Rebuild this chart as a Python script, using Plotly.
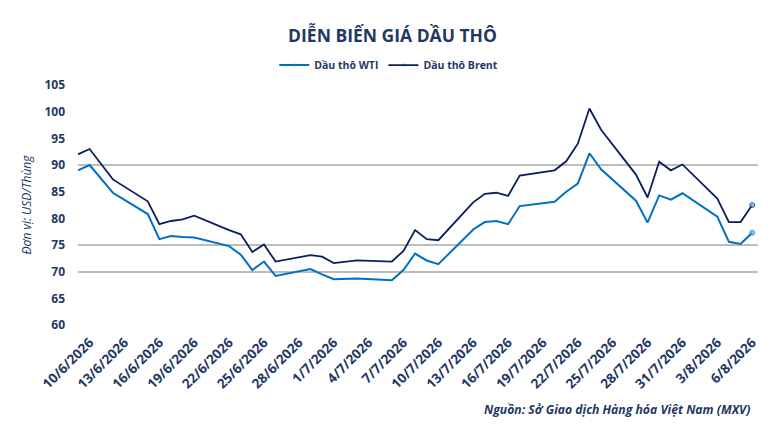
import plotly.graph_objects as go

# ---- data ----
dates = ["2026-06-09", "2026-06-10", "2026-06-12", "2026-06-15", "2026-06-16", "2026-06-17",
         "2026-06-18", "2026-06-19", "2026-06-22", "2026-06-23", "2026-06-24", "2026-06-25",
         "2026-06-26", "2026-06-29", "2026-06-30", "2026-07-01", "2026-07-03", "2026-07-06",
         "2026-07-07", "2026-07-08", "2026-07-09", "2026-07-10", "2026-07-13", "2026-07-14",
         "2026-07-15", "2026-07-16", "2026-07-17", "2026-07-20", "2026-07-21", "2026-07-22",
         "2026-07-23", "2026-07-24", "2026-07-27", "2026-07-28", "2026-07-29", "2026-07-30",
         "2026-07-31", "2026-08-03", "2026-08-04", "2026-08-05", "2026-08-06"]

wti = [89.0, 90.0, 84.8, 80.8, 76.1, 76.7, 76.5, 76.4, 74.8, 73.2, 70.3, 71.9,
       69.2, 70.5, 69.5, 68.6, 68.7, 68.4, 70.3, 73.4, 72.1, 71.4, 77.9, 79.3,
       79.5, 78.9, 82.3, 83.1, 85.0, 86.5, 92.2, 89.2, 83.3, 79.2, 84.3, 83.5,
       84.7, 80.3, 75.6, 75.2, 77.3]

brent = [92.0, 93.0, 87.3, 83.2, 78.9, 79.5, 79.8, 80.5, 77.8, 77.0, 73.7, 75.1,
         71.9, 73.1, 72.8, 71.6, 72.1, 71.9, 73.9, 77.8, 76.1, 75.9, 83.0, 84.6,
         84.8, 84.2, 88.0, 89.0, 90.7, 94.0, 100.6, 96.6, 88.2, 83.9, 90.6, 89.0,
         90.1, 83.7, 79.3, 79.3, 82.5]

series_names = ["Dầu thô WTI", "Dầu thô Brent"]
grid_levels = [70, 75, 90]

TEXT = "#1F3864"
FONT = "Open Sans"
Y_RANGE = [60, 105]

end_marker_sizes = [0] * (len(dates) - 1) + [5]

fig = go.Figure()
fig.add_trace(go.Scatter(
    x=dates, y=wti, name=series_names[0], mode="lines+markers", yaxis="y",
    line=dict(color="#0070C0", width=2),
    marker=dict(size=end_marker_sizes, color="#5BB8E6", symbol="circle"),
))
fig.add_trace(go.Scatter(
    x=dates, y=brent, name=series_names[1], mode="lines+markers", yaxis="y2",
    line=dict(color="#0A1F5C", width=1.8),
    marker=dict(size=end_marker_sizes, color="#5BB8E6", symbol="circle"),
))

fig.update_layout(
    width=769, height=429,
    paper_bgcolor="white", plot_bgcolor="white",
    margin=dict(l=70, r=19, t=77, b=112),
    font=dict(family=FONT, color=TEXT),
    title=dict(text="<b>DIỄN BIẾN GIÁ DẦU THÔ</b>", x=0.5, xanchor="center",
               y=0.935, yanchor="middle", font=dict(size=17.5, color=TEXT, family=FONT)),
    legend=dict(orientation="h", x=0.457, xanchor="center", y=1.083, yanchor="middle",
                font=dict(size=10.5, color=TEXT, family=FONT, weight="bold"), itemwidth=30,
                bgcolor="rgba(0,0,0,0)"),
    xaxis=dict(
        type="date", range=["2026-06-09", "2026-08-06 12:00"],
        tick0="2026-06-10", dtick=3 * 86400000, tickformat="%-d/%-m/%Y",
        tickangle=-45, tickfont=dict(size=13.5, color=TEXT, family=FONT, weight="bold"),
        showgrid=False, zeroline=False, showline=False, ticks="",
        ticklabelstandoff=6,
    ),
    # axis that carries the (partial) horizontal gridlines
    yaxis=dict(
        range=Y_RANGE, tickmode="array", tickvals=grid_levels, showticklabels=False,
        showgrid=True, gridcolor="#BDBDBD", gridwidth=1.5, zeroline=False, showline=False,
    ),
    # axis that carries the labels
    yaxis2=dict(
        overlaying="y", side="left", range=Y_RANGE, dtick=5, tick0=60,
        showgrid=False, zeroline=False, showline=False,
        tickfont=dict(size=12, color=TEXT, family=FONT, weight="bold"),
        ticklabelstandoff=12,
        title=dict(text="<i>Đơn vị: USD/Thùng</i>", standoff=10,
                   font=dict(size=12, color=TEXT, family=FONT)),
    ),
    annotations=[dict(
        text="<b><i>Nguồn: Sở Giao dịch Hàng hóa Việt Nam (MXV)</i></b>",
        xref="paper", yref="paper", x=0.991, y=-0.354, xanchor="right", yanchor="middle",
        showarrow=False, font=dict(size=12.2, color=TEXT, family=FONT),
    )],
)

fig.write_html("out.html")
